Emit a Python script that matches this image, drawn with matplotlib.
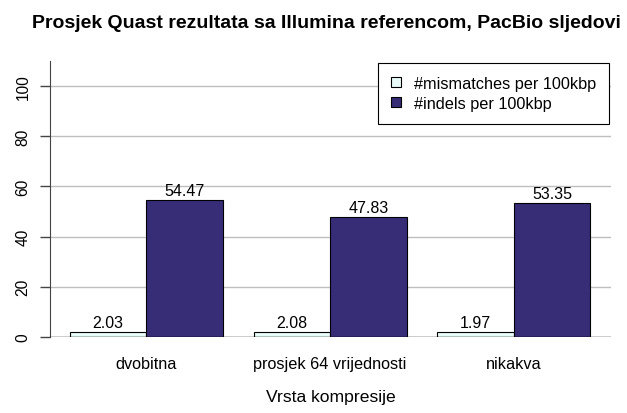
import numpy as np
import matplotlib.pyplot as plt

plt.rcParams['font.family'] = ['Liberation Sans', 'DejaVu Sans']

# prosjecne vrijednosti po vrsti kompresije
categories = ["dvobitna", "prosjek 64 vrijednosti", "nikakva"]
mismatches = [2.03, 2.08, 1.97]
indels = [54.47, 47.83, 53.35]
series_names = ["#mismatches per 100kbp", "#indels per 100kbp"]
yticks = [0, 20, 40, 60, 80, 100]

col_mis = "#E8FBF8"
col_ind = "#372C76"

fig = plt.figure(figsize=(6.27, 4.14), dpi=100)
ax = fig.add_axes([0.0797, 0.1836, 0.8947, 0.6667])

# barplot s razmakom 0.4 izmedju grupa
left = 0.4 + 2.4 * np.arange(len(categories))
ax.set_axisbelow(True)
for y in yticks[1:]:
    ax.axhline(y, color="#BEBEBE", lw=1, zorder=0)
ax.axhline(0, color="black", lw=1, zorder=3)

b1 = ax.bar(left, mismatches, width=1, align="edge", color=col_mis,
            edgecolor="black", lw=0.8, label=series_names[0], zorder=2)
b2 = ax.bar(left + 1, indels, width=1, align="edge", color=col_ind,
            edgecolor="black", lw=0.8, label=series_names[1], zorder=2)

for bars, vals in ((b1, mismatches), (b2, indels)):
    for b, v in zip(bars, vals):
        ax.text(b.get_x() + 0.5, v + 0.8, f"{v:.2f}", ha="center", va="bottom",
                fontsize=11.5)

ax.set_xlim(0.14, 7.47)
ax.set_ylim(0, 110)
ax.set_xticks(left + 1)
ax.set_xticklabels(categories, fontsize=11.7)
ax.tick_params(axis="x", length=0, pad=14)
ax.set_yticks(yticks)
ax.set_yticklabels([str(t) for t in yticks], fontsize=11.2, rotation=90, va="center")
ax.tick_params(axis="y", length=7, width=1, color="#444444", pad=7)
for s in ("top", "right", "bottom"):
    ax.spines[s].set_visible(False)
ax.spines["left"].set_color("#444444")

ax.set_xlabel("Vrsta kompresije", fontsize=12.6, labelpad=13)
fig.suptitle("Prosjek Quast rezultata sa Illumina referencom, PacBio sljedovi",
             fontsize=14, fontweight="bold", x=0.52, y=0.963)

leg = ax.legend(loc="upper right", bbox_to_anchor=(0.9964, 0.9928), fontsize=11.7,
                fancybox=False, framealpha=1, edgecolor="black",
                handlelength=0.6, handleheight=0.6, borderpad=0.8,
                labelspacing=0.3, handletextpad=0.8, borderaxespad=0)
leg.get_frame().set_linewidth(0.8)

fig.savefig("out.png", dpi=100)
